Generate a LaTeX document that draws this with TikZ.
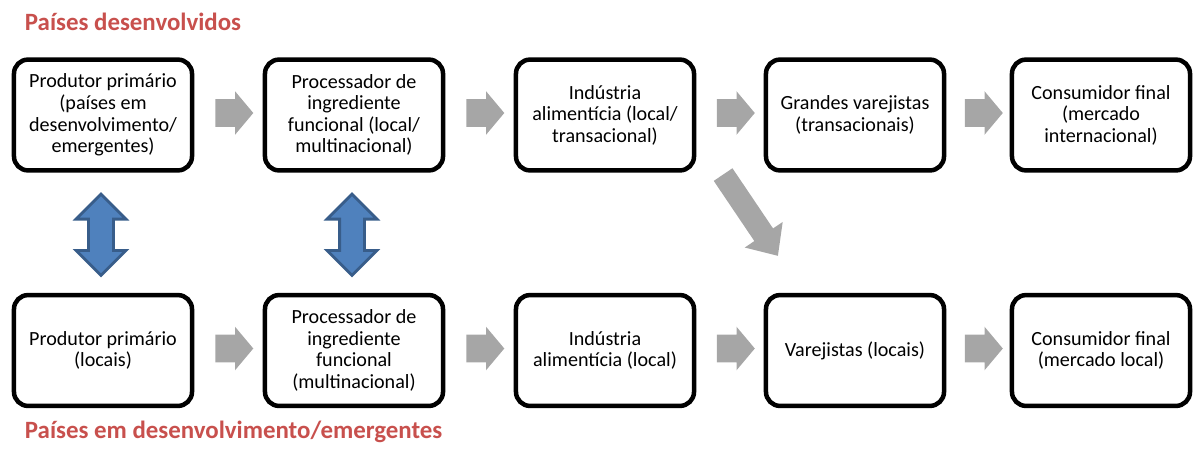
\documentclass[tikz,border=0pt]{standalone}
\usepackage{fontspec}
\setmainfont{Carlito}
\usepackage{tikz}
\usetikzlibrary{shapes.arrows, calc}
\definecolor{setacinza}{HTML}{A6A6A6}
\definecolor{setaazul}{HTML}{4F81BD}
\definecolor{bordaazul}{HTML}{385D8A}
\definecolor{titulovermelho}{HTML}{C8504D}

\begin{document}
\begin{tikzpicture}[x=0.025cm, y=-0.025cm,
  etapa/.style={draw, line width=3.2pt, rounded corners=10pt, minimum width=4.45cm, minimum height=2.77cm, align=center, inner sep=2pt, font=\fontsize{14.3}{15.3}\selectfont},
  seta/.style={single arrow, fill=setacinza, minimum height=0.95cm, inner xsep=0pt, inner ysep=0.3375cm, single arrow head extend=0.2cm, single arrow tip angle=100},
  setadupla/.style={double arrow, fill=setaazul, draw=bordaazul, line width=2.1pt, rotate=90, minimum height=2.03cm, inner xsep=0pt, inner ysep=0.275cm, double arrow head extend=0.31cm},
  titulo/.style={anchor=west, text=titulovermelho, font=\bfseries\fontsize{17.7}{20}\selectfont}]
\useasboundingbox (0,0) rectangle (1196,448);
% titulos
\path
(20,22) node[titulo] (tdes) {Países desenvolvidos};
\path
(20,432) node[titulo] (temg) {Países em desenvolvimento/emergentes};
% cadeia dos paises desenvolvidos
\path (103,115) node[etapa] (t1) {Produtor primário\\(países em\\desenvolvimento/\\emergentes)};
\path (354,115) node[etapa] (t2) {Processador de\\ingrediente\\funcional (local/\\multinacional)};
\path (605,115) node[etapa] (t3) {Indústria\\alimentícia (local/\\transacional)};
\path (855,115) node[etapa] (t4) {Grandes varejistas\\(transacionais)};
\path (1101,115) node[etapa] (t5) {Consumidor final\\(mercado\\internacional)};
% cadeia dos paises em desenvolvimento
\path (103,350.5) node[etapa] (b1) {Produtor primário\\(locais)};
\path (354,350.5) node[etapa] (b2) {Processador de\\ingrediente\\funcional\\(multinacional)};
\path (605,350.5) node[etapa] (b3) {Indústria\\alimentícia (local)};
\path (855,350.5) node[etapa] (b4) {Varejistas (locais)};
\path (1101,350.5) node[etapa] (b5) {Consumidor final\\(mercado local)};
% setas cinzas
\node[seta] (st1) at ($(t1.east)!.5!(t2.west)+(0,-2)$) {};
\node[seta] (st2) at ($(t2.east)!.5!(t3.west)+(0,-2)$) {};
\node[seta] (st3) at ($(t3.east)!.5!(t4.west)+(0,-2)$) {};
\node[seta] (st4) at ($(t4.east)!.5!(t5.west)+(0,-2)$) {};
\node[seta] (sb1) at ($(b1.east)!.5!(b2.west)+(0,-2)$) {};
\node[seta] (sb2) at ($(b2.east)!.5!(b3.west)+(0,-2)$) {};
\node[seta] (sb3) at ($(b3.east)!.5!(b4.west)+(0,-2)$) {};
\node[seta] (sb4) at ($(b4.east)!.5!(b5.west)+(0,-2)$) {};
\node[seta, rotate=-56, minimum height=2.45cm, inner ysep=0.275cm, single arrow head extend=0.29cm, single arrow tip angle=84] (sdiag) at (747,210) {};
% setas azuis
\node[setadupla] (sd1) at ($(t1.south)!.5!(b1.north)+(-2,2)$) {};
\node[setadupla] (sd2) at ($(t2.south)!.5!(b2.north)+(-2,2)$) {};
\end{tikzpicture}
\end{document}
